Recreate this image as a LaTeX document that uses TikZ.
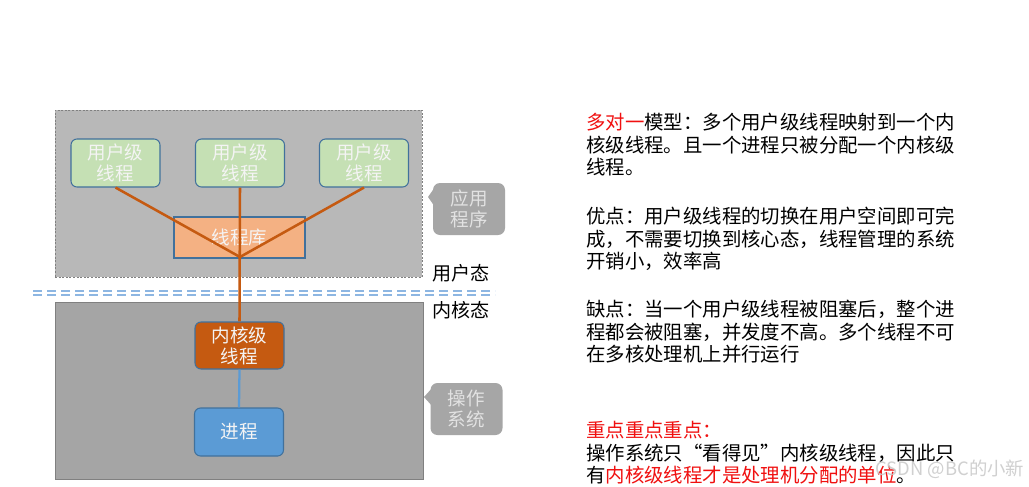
\documentclass[tikz,border=0pt]{standalone}
\usepackage{fontspec}
\setmainfont{Noto Sans CJK SC}
\newdimen\pxu \pxu=0.75pt
\definecolor{topgray}{HTML}{B8B8B8}
\definecolor{botgray}{HTML}{A5A5A5}
\definecolor{framegray}{HTML}{808080}
\definecolor{ugreen}{HTML}{C5E0B4}
\definecolor{bord}{HTML}{41719C}
\definecolor{libc}{HTML}{F4B183}
\definecolor{orangeL}{HTML}{C55A11}
\definecolor{blueP}{HTML}{5B9BD5}
\definecolor{dashc}{HTML}{8DB6E2}
\definecolor{callc}{HTML}{A6A6A6}
\definecolor{calltext}{HTML}{E2E2E2}
\definecolor{boxtext}{HTML}{F4F4F4}
\definecolor{redt}{HTML}{F01010}
\definecolor{wm}{HTML}{C8C8C8}
\tikzset{
  boxfont/.style={font=\fontsize{13.9pt}{15.8pt}\selectfont},
  tbox/.style={boxfont, draw=bord, line width=0.8pt, rounded corners=6\pxu, align=center, inner sep=0pt, text=boxtext, minimum width=89\pxu, minimum height=48\pxu},
  userbox/.style={tbox, fill=ugreen},
  libbox/.style={boxfont, draw=bord, line width=0.8pt, fill=libc, text=boxtext, inner sep=0pt, minimum width=131\pxu, minimum height=41\pxu},
  callbox/.style={boxfont, fill=callc, rounded corners=7\pxu, text=calltext, align=center, inner sep=0pt, minimum width=72\pxu, minimum height=52\pxu},
  oline/.style={draw=orangeL, line width=1.9pt},
  bline/.style={draw=blueP, line width=1.7pt},
  statelabel/.style={font=\fontsize{14.3pt}{16pt}\selectfont, inner sep=0pt},
  para/.style={font=\fontsize{14.55pt}{16.9pt}\selectfont, align=left, anchor=north west, inner sep=0pt},
}
\begin{document}
\begin{tikzpicture}[x=0.75pt,y=-0.75pt]
\useasboundingbox[fill=white] (0,0) rectangle (1029,486);
% top application area
\node[draw=framegray, line width=0.6pt, dash pattern=on 1.5pt off 1.2pt, fill=topgray, minimum width=367\pxu, minimum height=167\pxu, inner sep=0pt] (app) at (238.5,193.5) {};
% bottom kernel area
\node[draw=framegray, line width=0.7pt, fill=botgray, minimum width=368\pxu, minimum height=177\pxu, inner sep=0pt] (os) at (239,390.5) {};
% nodes
\node[userbox] (u1) at (115.5,163) {用户级\\线程};
\node[userbox] (u2) at (240,163) {用户级\\线程};
\node[userbox] (u3) at (364,163) {用户级\\线程};
\node[libbox] (lib) at (239.5,237.5) {线程库};
\node[tbox, fill=orangeL, minimum height=47\pxu] (kern) at (239.5,345.5) {内核级\\线程};
\node[tbox, fill=blueP] (proc) at (239,432) {进程};
% connectors
\coordinate (j) at (240,257);
\draw[oline] (u1.south) -- (j);
\draw[oline] (u3.south) -- (j);
\draw[oline] (u2.south) -- (kern.north);
\draw[bline] (kern.south) -- (proc.north);
% callouts
\node[callbox] (c1) at (469,209) {应用\\程序};
\fill[callc] (435,187) -- (428,197) -- (435,207) -- cycle;
\node[callbox] (c2) at (466.5,409) {操作\\系统};
\fill[callc] (433,387) -- (424,397) -- (433,407) -- cycle;
% boundary
\draw[dashc, line width=1.3pt, dash pattern=on 6.8pt off 3.7pt] (33,291) -- (495,291);
\draw[dashc, line width=1.3pt, dash pattern=on 6.8pt off 3.7pt] (33,294.8) -- (495,294.8);
\node[statelabel] (ustate) at (461,273.5) {用户态};
\node[statelabel] (kstate) at (461,310) {内核态};
% right text
\node[para] (p1) at (586,113) {{\color{redt}多对一}模型：多个用户级线程映射到一个内\\核级线程。且一个进程只被分配一个内核级\\线程。};
\node[para] (p2) at (586,207) {优点：用户级线程的切换在用户空间即可完\\成，不需要切换到核心态，线程管理的系统\\开销小，效率高};
\node[para] (p3) at (586,300) {缺点：当一个用户级线程被阻塞后，整个进\\程都会被阻塞，并发度不高。多个线程不可\\在多核处理机上并行运行};
\node[para] (p4) at (586,421) {{\color{redt}重点重点重点：}\\操作系统只“看得见”内核级线程，因此只\\有{\color{redt}内核级线程才是处理机分配的单位}。};
\node[font=\fontsize{13.8pt}{15pt}\selectfont, text=wm, inner sep=0pt, opacity=0.85] (wmark) at (950,469.5) {CSDN @BC的小新};
\end{tikzpicture}
\end{document}
